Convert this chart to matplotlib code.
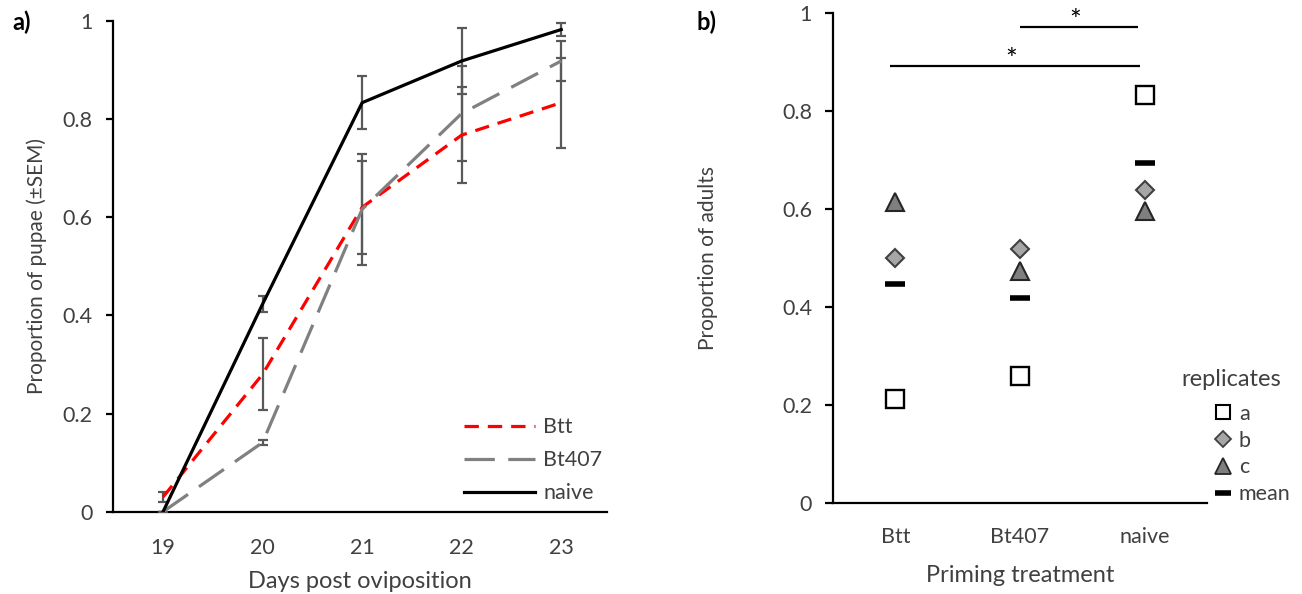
import matplotlib
matplotlib.use("Agg")
import matplotlib.pyplot as plt
from matplotlib.lines import Line2D

plt.rcParams['font.family'] = ['Lato', 'DejaVu Sans']

# ---- panel a data ----
days = [19, 20, 21, 22, 23]
btt = [0.03, 0.28, 0.62, 0.767, 0.833]
btt_sem = [0.01, 0.073, 0.095, 0.097, 0.092]
bt407 = [0.0, 0.141, 0.616, 0.811, 0.918]
bt407_sem = [0.0, 0.006, 0.113, 0.097, 0.040]
naive = [0.0, 0.423, 0.833, 0.918, 0.982]
naive_sem = [0.0, 0.017, 0.054, 0.068, 0.014]
yticks_a = [0, 0.2, 0.4, 0.6, 0.8, 1]
yticklabels_a = ['0', '0.2', '0.4', '0.6', '0.8', '1']

# ---- panel b data ----
treatments = ['Btt', 'Bt407', 'naive']
rep_a = [0.212, 0.26, 0.833]
rep_b = [0.500, 0.519, 0.639]
rep_c = [0.615, 0.474, 0.597]
means = [0.447, 0.418, 0.694]
# (x start, x end, line height, asterisk x)
sig_pairs = [(0.96, 2.96, 0.893, 1.93), (2.0, 2.95, 0.973, 2.44)]

TXT = '#404040'
FS_TICK = 15.5
FS_YLAB = 15
FS_XLAB = 17
FS_LEG = 15.5

fig = plt.figure(figsize=(13.02, 5.94), dpi=100)

# ================= panel a =================
axa = fig.add_axes([113.3/1302, (594-511.7)/594, 493.7/1302, 491/594])
ecol = '#595959'
lw = 2.3
axa.errorbar(days, btt, yerr=btt_sem, color='red', lw=lw, dashes=(4.5, 2.8),
             ecolor=ecol, elinewidth=1.6, capsize=3.5, capthick=1.6, zorder=3)
axa.errorbar(days, bt407, yerr=bt407_sem, color='#808080', lw=lw, dashes=(9.5, 4.2),
             ecolor=ecol, elinewidth=1.6, capsize=3.5, capthick=1.6, zorder=3)
axa.errorbar(days, naive, yerr=naive_sem, color='black', lw=lw,
             ecolor=ecol, elinewidth=1.6, capsize=3.5, capthick=1.6, zorder=3)
axa.set_xlim(18.5, 23.46)
axa.set_ylim(0, 1)
axa.set_yticks(yticks_a)
axa.set_yticklabels(yticklabels_a)
axa.set_xticks(days)
axa.set_xticklabels([str(d) for d in days])
for s in ['top', 'right']:
    axa.spines[s].set_visible(False)
for s in ['left', 'bottom']:
    axa.spines[s].set_linewidth(1.6)
    axa.spines[s].set_color('black')
axa.tick_params(axis='y', length=5, width=1.6, direction='out', pad=10, labelsize=FS_TICK, labelcolor=TXT)
axa.tick_params(axis='x', length=0, pad=19, labelsize=FS_TICK, labelcolor=TXT)
axa.set_xlabel('Days post oviposition', fontsize=FS_XLAB, color=TXT, labelpad=9)
axa.set_ylabel('Proportion of pupae (±SEM)', fontsize=FS_YLAB, color=TXT, labelpad=11)
hl = [Line2D([], [], color='red', lw=lw, dashes=(4.5, 2.8)),
      Line2D([], [], color='#808080', lw=lw, dashes=(9.5, 4.2)),
      Line2D([], [], color='black', lw=lw)]
axa.legend(hl, ['Btt', 'Bt407', 'naive'], loc='lower right', bbox_to_anchor=(1.03, -0.022),
           frameon=False, fontsize=FS_LEG, handlelength=3.3, handletextpad=0.4,
           labelspacing=0.6, labelcolor=TXT)
fig.text(12/1302, 1-22/594, 'a)', fontsize=17, fontweight='bold', va='center', ha='left')

# ================= panel b =================
axb = fig.add_axes([833/1302, (594-503.3)/594, 374/1302, 490/594])
xs = [1, 2, 3]
axb.plot(xs, rep_a, ls='none', marker='s', ms=12.5, mfc='white', mec='black', mew=1.7, zorder=3)
axb.plot(xs, rep_b, ls='none', marker='D', ms=9.5, mfc='#a6a6a6', mec='#404040', mew=1.5, zorder=3)
axb.plot(xs, rep_c, ls='none', marker='^', ms=13.5, mfc='#7f7f7f', mec='#262626', mew=1.5, zorder=3)
axb.plot(xs, means, ls='none', marker='_', ms=14, mec='black', mew=4, zorder=4)
for x0, x1, yl, xa in sig_pairs:
    axb.plot([x0, x1], [yl, yl], color='black', lw=1.6, solid_capstyle='butt')
    axb.text(xa, yl - 0.017, '*', ha='center', va='bottom', fontsize=20, color='black')
axb.set_xlim(0.5, 3.5)
axb.set_ylim(0, 1)
axb.set_yticks(yticks_a)
axb.set_yticklabels(yticklabels_a)
axb.set_xticks(xs)
axb.set_xticklabels(treatments)
for s in ['top', 'right']:
    axb.spines[s].set_visible(False)
for s in ['left', 'bottom']:
    axb.spines[s].set_linewidth(1.6)
    axb.spines[s].set_color('black')
axb.tick_params(axis='y', length=6, width=1.6, direction='out', pad=9, labelsize=FS_TICK, labelcolor=TXT)
axb.tick_params(axis='x', length=0, pad=17, labelsize=FS_TICK, labelcolor=TXT)
axb.set_xlabel('Priming treatment', fontsize=FS_XLAB, color=TXT, labelpad=13)
axb.set_ylabel('Proportion of adults', fontsize=FS_YLAB, color=TXT, labelpad=46)

hb = [Line2D([], [], ls='none', marker='s', ms=10.5, mfc='white', mec='black', mew=1.5),
      Line2D([], [], ls='none', marker='D', ms=8, mfc='#a6a6a6', mec='#404040', mew=1.3),
      Line2D([], [], ls='none', marker='^', ms=11, mfc='#7f7f7f', mec='#262626', mew=1.3),
      Line2D([], [], ls='none', marker='_', ms=11, mec='black', mew=4)]
axb.legend(hb, ['a', 'b', 'c', 'mean'], loc='center left',
           bbox_to_anchor=((1212 - 833)/374, (503.3 - 454)/490),
           frameon=False, fontsize=FS_LEG, handlelength=1.0, handletextpad=0.25,
           labelspacing=0.32, labelcolor=TXT, borderaxespad=0, borderpad=0)
fig.text(1181/1302, 1-380/594, 'replicates', fontsize=17, color=TXT, va='center', ha='left')
fig.text(697/1302, 1-22/594, 'b)', fontsize=17, fontweight='bold', va='center', ha='left')

fig.savefig('out.png', dpi=100)
